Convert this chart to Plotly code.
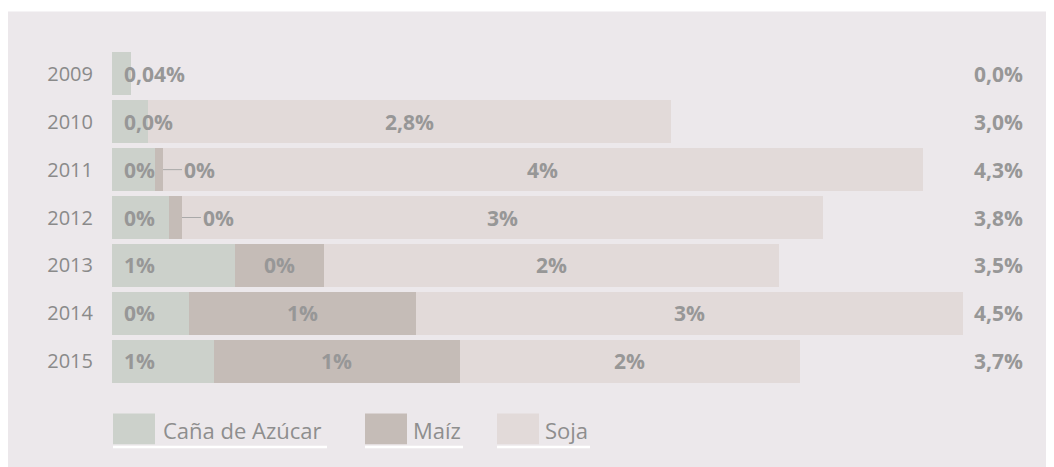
import plotly.graph_objects as go

years = ["2009", "2010", "2011", "2012", "2013", "2014", "2015"]
series_names = ["Caña de Azúcar", "Maíz", "Soja"]
cane = [0.10, 0.19, 0.23, 0.30, 0.65, 0.41, 0.54]
maiz = [0.00, 0.00, 0.04, 0.07, 0.47, 1.20, 1.30]
soja = [0.00, 2.77, 4.02, 3.39, 2.41, 2.89, 1.80]
cane_lbl = ["0,04%", "0,0%", "0%", "0%", "1%", "0%", "1%"]
maiz_lbl = ["", "", "0%", "0%", "0%", "1%", "1%"]
soja_lbl = ["", "2,8%", "4%", "3%", "2%", "3%", "2%"]
total_lbl = ["0,0%", "3,0%", "4,3%", "3,8%", "3,5%", "4,5%", "3,7%"]

colors = ["#ccd1cb", "#c5bcb7", "#e2dad9"]
panel = "#ece8eb"
lbl_col = "#979797"
FONT = "Open Sans"

W, H = 1054, 467
OFF = 8  # page offset of the figure in the browser window
ML, MR, MT, MB = 104, 24, 41.5, 89.5
PW, PH = W - ML - MR, H - MT - MB


def px(x):
    return (x - OFF - ML) / PW


def py(y):
    return (H - MB - (y - OFF)) / PH


fig = go.Figure()
for name, vals, col in zip(series_names, [cane, maiz, soja], colors):
    fig.add_trace(go.Bar(
        y=years, x=vals, name=name, orientation="h",
        marker=dict(color=col, line=dict(width=0)),
        showlegend=False, hoverinfo="skip",
    ))

ann = []
lf = dict(family=FONT, size=21, color=lbl_col, weight="bold")
for i, yr in enumerate(years):
    ann.append(dict(x=0, y=i, xref="x", yref="y", text=cane_lbl[i], showarrow=False,
                    xanchor="left", xshift=10, font=lf))
    if maiz_lbl[i]:
        if maiz[i] < 0.1:
            ann.append(dict(x=cane[i] + maiz[i], y=i, xref="x", yref="y", text=maiz_lbl[i],
                            showarrow=True, arrowhead=0, arrowwidth=1, arrowcolor="#a9a9a9",
                            ax=19, ay=0, xanchor="left", font=lf))
        else:
            ann.append(dict(x=cane[i] + maiz[i] / 2, y=i, xref="x", yref="y", text=maiz_lbl[i],
                            showarrow=False, font=lf))
    if soja_lbl[i]:
        ann.append(dict(x=cane[i] + maiz[i] + soja[i] / 2, y=i, xref="x", yref="y",
                        text=soja_lbl[i], showarrow=False, font=lf))
    ann.append(dict(x=1, y=i, xref="paper", yref="y", text=total_lbl[i], showarrow=False,
                    xanchor="right", xshift=-13, font=lf))

shapes = [dict(type="rect", xref="paper", yref="paper", x0=px(8), x1=px(1070),
               y0=py(480), y1=py(11), fillcolor=panel, line=dict(width=0), layer="below")]

leg = [(113, 155, 163, 327), (365, 407, 413, 463), (497, 539, 545, 590)]
for (sx0, sx1, tx, ux1), name, col in zip(leg, series_names, colors):
    shapes.append(dict(type="rect", xref="paper", yref="paper", x0=px(sx0), x1=px(sx1),
                       y0=py(445), y1=py(414), fillcolor=col, line=dict(width=0)))
    shapes.append(dict(type="rect", xref="paper", yref="paper", x0=px(sx0), x1=px(ux1),
                       y0=py(449), y1=py(446.5), fillcolor="#ffffff", line=dict(width=0)))
    ann.append(dict(x=px(tx), y=py(431), xref="paper", yref="paper", text=name, showarrow=False,
                    xanchor="left", yanchor="middle", xshift=-2,
                    font=dict(family=FONT, size=22, color="#8e8e8e")))

fig.update_layout(
    width=W, height=H, barmode="stack", bargap=0.1,
    margin=dict(l=ML, r=MR, t=MT, b=MB),
    paper_bgcolor="#ffffff", plot_bgcolor=panel,
    xaxis=dict(range=[0, PW / 189.0], visible=False, fixedrange=True),
    yaxis=dict(type="category", range=[len(years) - 0.5, -0.5], showgrid=False,
               zeroline=False, showline=False, ticks="", ticklabelstandoff=18,
               tickfont=dict(family=FONT, size=20, color="#8a8a8a"), fixedrange=True),
    annotations=ann, shapes=shapes, showlegend=False,
)

fig.write_html("out.html")
